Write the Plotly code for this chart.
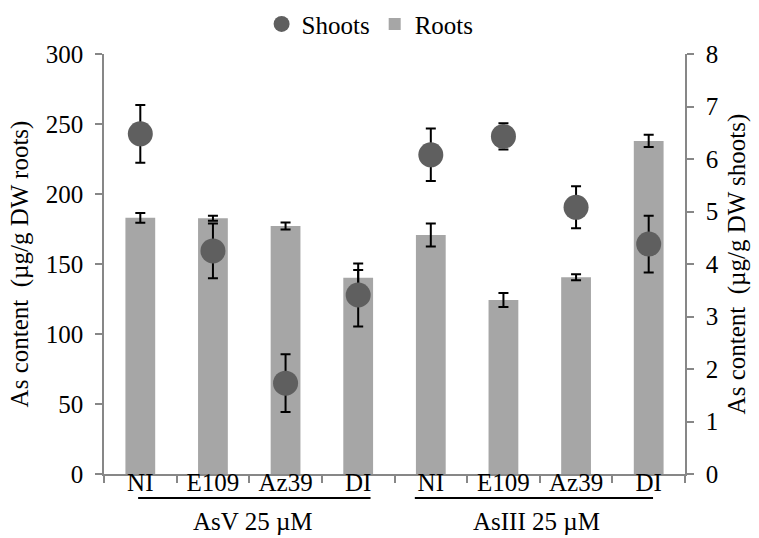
import plotly.graph_objects as go

# ---- data ----
categories = ["AsV NI", "AsV E109", "AsV Az39", "AsV DI",
              "AsIII NI", "AsIII E109", "AsIII Az39", "AsIII DI"]
tick_labels = ["NI", "E109", "Az39", "DI", "NI", "E109", "Az39", "DI"]
group_labels = ["AsV 25 µM", "AsIII 25 µM"]

roots = [183, 182.7, 177.1, 140.2, 170.7, 124.3, 140.5, 237.9]
roots_err = [3.5, 1.8, 2.5, 5.5, 8.2, 5.0, 2.1, 4.4]

shoots = [6.48, 4.25, 1.73, 3.41, 6.08, 6.43, 5.08, 4.38]
shoots_err = [0.55, 0.52, 0.55, 0.60, 0.50, 0.25, 0.40, 0.54]

FONT = "Liberation Serif, Times New Roman, serif"
AXIS_COLOR = "#878787"

fig = go.Figure()

fig.add_trace(go.Bar(
    x=categories, y=roots, name="Roots",
    marker=dict(color="#a6a6a6", line=dict(width=0)),
    width=0.41,
    error_y=dict(type="data", array=roots_err, color="black", thickness=2, width=5),
    legendrank=2,
))

fig.add_trace(go.Scatter(
    x=categories, y=shoots, name="Shoots", yaxis="y2", mode="markers",
    marker=dict(color="#5f5f5f", size=25),
    error_y=dict(type="data", array=shoots_err, color="black", thickness=2, width=5),
    legendrank=1,
))

fig.update_layout(
    width=759, height=538,
    margin=dict(l=104, r=74, t=54, b=64, autoexpand=False),
    paper_bgcolor="white", plot_bgcolor="white",
    font=dict(family=FONT, size=25, color="black"),
    showlegend=True,
    legend=dict(orientation="h", x=0.458, xanchor="center", y=1.071, yanchor="middle",
                font=dict(size=25), bgcolor="rgba(0,0,0,0)", itemwidth=30,
                traceorder="normal"),
    xaxis=dict(
        type="category", categoryorder="array", categoryarray=categories,
        tickmode="array", tickvals=categories, ticktext=tick_labels,
        tickson="boundaries", ticks="outside", ticklen=7, tickcolor=AXIS_COLOR,
        tickwidth=1.5, showline=True, linecolor=AXIS_COLOR, linewidth=1.5,
        showgrid=False, zeroline=False, range=[-0.5, 7.5],
        ticklabelstandoff=-15, tickfont=dict(size=25), automargin=False,
    ),
    yaxis=dict(
        range=[0, 300], dtick=50, tick0=0, ticks="outside", ticklen=7,
        tickcolor=AXIS_COLOR, tickwidth=1.5, showline=True, linecolor=AXIS_COLOR,
        linewidth=1.5, showgrid=False, zeroline=False, tickfont=dict(size=25),
        ticklabelstandoff=7, automargin=False,
        title=dict(text="As content  (µg/g DW roots)", font=dict(size=25), standoff=10),
    ),
    yaxis2=dict(
        range=[0, 8], dtick=1, tick0=0, overlaying="y", side="right",
        ticks="outside", ticklen=7, tickcolor=AXIS_COLOR, tickwidth=1.5,
        showline=True, linecolor=AXIS_COLOR, linewidth=1.5, showgrid=False,
        zeroline=False, tickfont=dict(size=25), ticklabelstandoff=7, automargin=False,
        title=dict(text="As content  (µg/g DW shoots)", font=dict(size=25), standoff=10),
    ),
)

# group underlines and labels
underline_spans = [(-0.03, 3.17), (3.78, 7.06)]
group_centers = [1.55, 5.45]
for (x0, x1), cx, lab in zip(underline_spans, group_centers, group_labels):
    fig.add_shape(type="line", xref="x", yref="paper", x0=x0, x1=x1, y0=-0.057, y1=-0.057,
                  line=dict(color="black", width=2))
    fig.add_annotation(x=cx, y=-0.112, xref="x", yref="paper", text=lab, showarrow=False,
                       font=dict(size=25, family=FONT), yanchor="middle")

fig.write_html("out.html")
